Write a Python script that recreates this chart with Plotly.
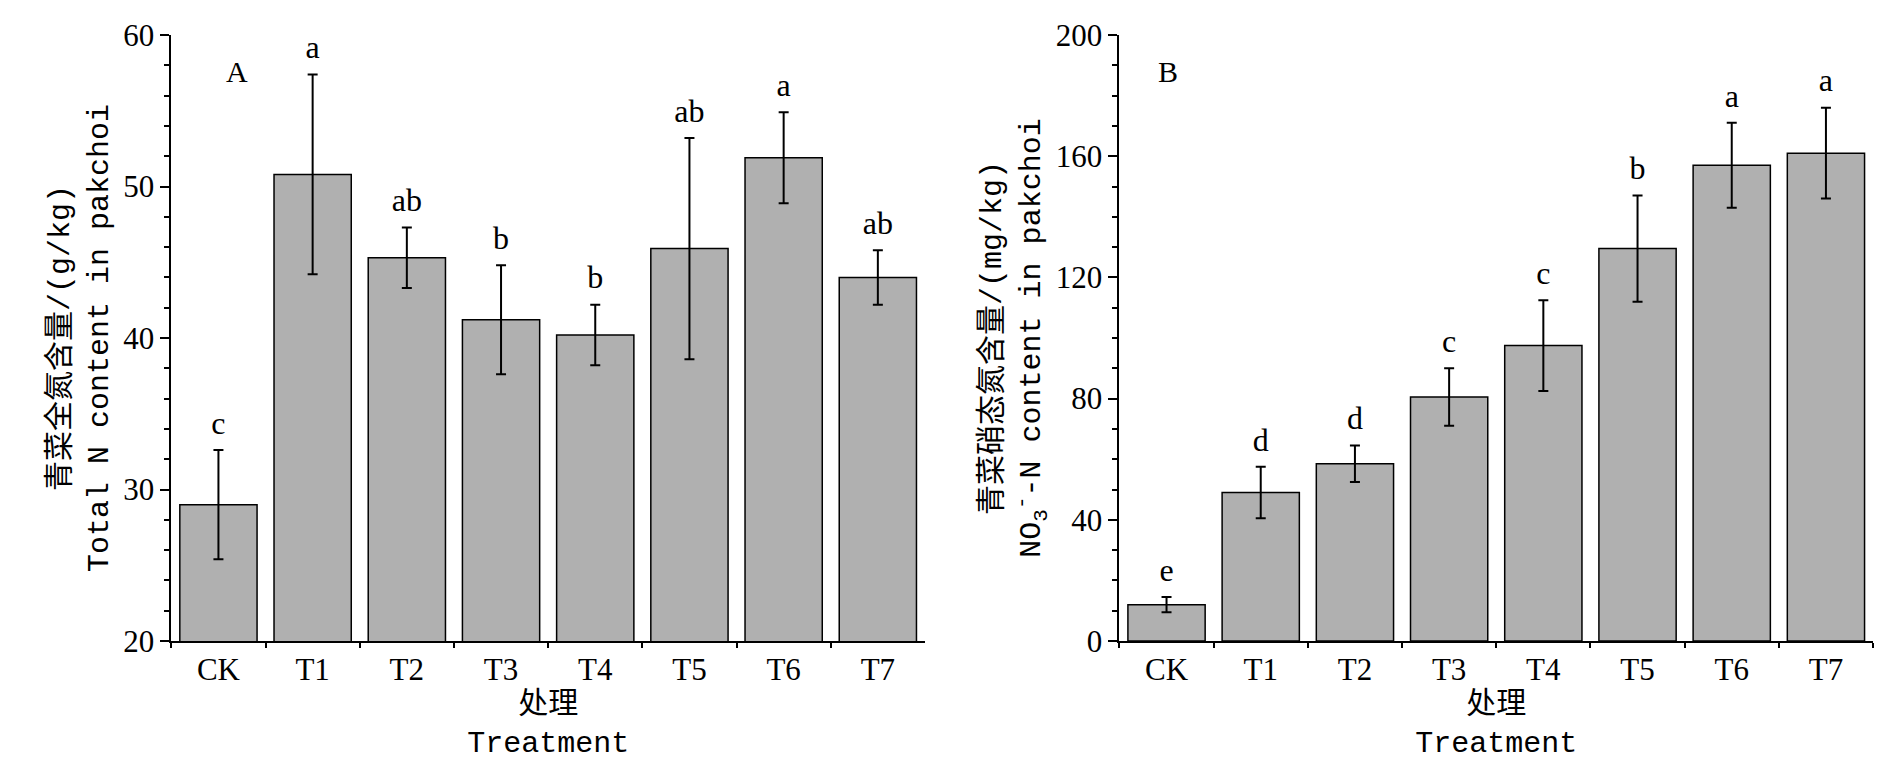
import plotly.graph_objects as go
from plotly.subplots import make_subplots

treatments = ["CK", "T1", "T2", "T3", "T4", "T5", "T6", "T7"]
total_n = [29.0, 50.8, 45.3, 41.2, 40.2, 45.9, 51.9, 44.0]
total_n_err = [3.6, 6.6, 2.0, 3.6, 2.0, 7.3, 3.0, 1.8]
total_n_sig = ["c", "a", "ab", "b", "b", "ab", "a", "ab"]
nitrate_n = [12.0, 49.0, 58.5, 80.5, 97.5, 129.5, 157.0, 161.0]
nitrate_n_err = [2.5, 8.5, 6.0, 9.5, 15.0, 17.5, 14.0, 15.0]
nitrate_n_sig = ["e", "d", "d", "c", "c", "b", "a", "a"]

FONT = "Liberation Serif, Noto Sans CJK SC, serif"
MONO = "Liberation Mono, Noto Sans CJK SC, monospace"

fig = make_subplots(rows=1, cols=2, horizontal_spacing=0.104)

panels = [
    (total_n, total_n_err, total_n_sig, 1.6),
    (nitrate_n, nitrate_n_err, nitrate_n_sig, 8.0),
]
for col, (vals, errs, sig, pad) in enumerate(panels, start=1):
    fig.add_trace(
        go.Bar(
            x=treatments,
            y=vals,
            width=0.82,
            marker={"color": "#b0b0b0", "line": {"color": "black", "width": 1.5}},
            error_y={"type": "data", "array": errs, "color": "black", "thickness": 2, "width": 5},
            showlegend=False,
        ),
        row=1,
        col=col,
    )
    fig.add_trace(
        go.Scatter(
            x=treatments,
            y=[v + e + pad for v, e in zip(vals, errs)],
            mode="text",
            text=sig,
            textposition="middle center",
            textfont={"size": 32, "family": FONT, "color": "black"},
            showlegend=False,
        ),
        row=1,
        col=col,
    )

axis_style = dict(
    showline=True,
    linecolor="black",
    linewidth=2,
    mirror=False,
    ticks="outside",
    tickcolor="black",
    tickwidth=2,
    tickfont={"size": 31, "family": FONT, "color": "black"},
    showgrid=False,
    zeroline=False,
)
fig.update_xaxes(**axis_style, tickson="boundaries", ticklen=5)
fig.update_yaxes(**axis_style, ticklen=9, minor={"ticks": "outside", "ticklen": 5, "tickcolor": "black"})

fig.update_xaxes(domain=[0.082, 0.485], row=1, col=1)
fig.update_xaxes(domain=[0.589, 0.992], row=1, col=2)
fig.update_yaxes(range=[20, 60], dtick=10, row=1, col=1)
fig.update_yaxes(range=[0, 200], dtick=40, row=1, col=2)

title_font = {"size": 30, "family": MONO, "color": "black"}
fig.update_yaxes(
    title={"text": "青菜全氮含量/(g/kg)<br>Total N content in pakchoi", "font": title_font, "standoff": 6},
    row=1, col=1,
)
fig.update_yaxes(
    title={"text": "青菜硝态氮含量/(mg/kg)<br>NO<sub>3</sub><sup>-</sup>-N content in pakchoi",
           "font": title_font, "standoff": 6},
    row=1, col=2,
)
for col in (1, 2):
    fig.update_xaxes(title={"text": "处理<br>Treatment", "font": title_font, "standoff": 2}, row=1, col=col)

fig.add_annotation(text="A", x=0.11, y=0.97, xref="paper", yref="paper", showarrow=False,
                   font={"size": 30, "family": FONT, "color": "black"})
fig.add_annotation(text="B", x=0.615, y=0.97, xref="paper", yref="paper", showarrow=False,
                   font={"size": 30, "family": FONT, "color": "black"})

fig.update_layout(
    width=1890,
    height=762,
    margin={"l": 10, "r": 10, "t": 24, "b": 129},
    plot_bgcolor="white",
    paper_bgcolor="white",
)

fig.write_html("out.html")
